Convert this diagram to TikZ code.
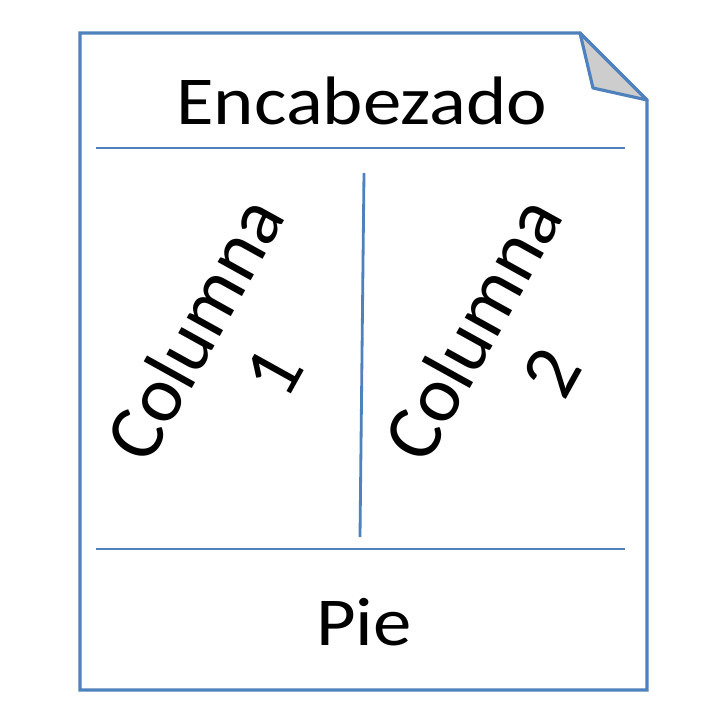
\documentclass[tikz,border=0pt]{standalone}
\usepackage{fontspec}
\setmainfont{Carlito}
\usepackage{xcolor}
\usetikzlibrary{positioning}
\definecolor{pageblue}{HTML}{4F81BD}
\definecolor{foldgray}{HTML}{CDCDCD}

\begin{document}
\begin{tikzpicture}[x=0.01cm,y=-0.01cm]
	\tikzstyle{every node}=[font=\fontsize{19.5}{24}\selectfont, inner sep=0pt]
	\tikzstyle{rule}=[line width=0.8pt, pageblue]
	\tikzstyle{coltext}=[rotate=61, align=center, font=\fontsize{22.5}{25.5}\selectfont]
	\useasboundingbox (0,0) rectangle (720,720);
	% page with folded corner
	\draw [line width=0.9pt, pageblue, fill=white] (80,33) -- (580,33) -- (647,100) -- (647,690) -- (80,690) -- cycle;
	\draw [line width=0.9pt, pageblue, fill=foldgray, line join=round] (580,33) -- (593,88) -- (647,100) -- cycle;
	% sections
	\draw [rule] (96,148) -- (625,148);
	\draw [rule] (96,549) -- (625,549);
	\draw [rule] (364,173) -- (360,537);
	\node [anchor=base, xscale=1.12] (head) at (362,124) {Encabezado};
	\node [anchor=base, xscale=1.12] (foot) at (364,645) {Pie};
	\node [coltext] (col1) at (233,350) {Columna\\1};
	\node [coltext] (col2) at (511,350) {Columna\\2};
\end{tikzpicture}
\end{document}
